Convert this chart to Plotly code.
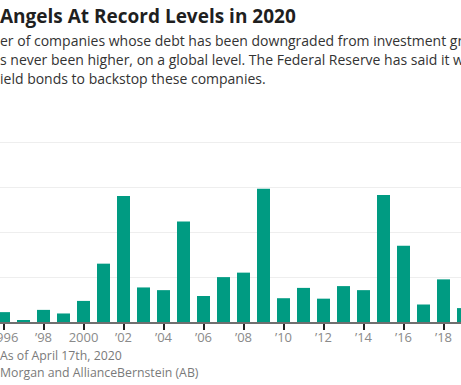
import plotly.graph_objects as go

years = list(range(1996, 2020))
values = [2.2, 0.4, 2.7, 1.9, 4.7, 13.0, 28.1, 7.7, 7.1, 22.4, 5.8, 10.0,
          11.0, 29.7, 5.3, 7.6, 5.2, 8.0, 7.1, 28.3, 17.0, 3.9, 9.5, 3.1]
tick_years = list(range(1996, 2019, 2))
tick_labels = ["1996", "’98", "2000", "’02", "’04", "’06", "’08", "’10",
               "’12", "’14", "’16", "’18"]

title_hidden = "Fallen "
title_visible = "Angels At Record Levels in 2020"
sub_lines = [
    ("The numb", "er of companies whose debt has been downgraded from investment grade to junk"),
    ("ha", "s never been higher, on a global level. The Federal Reserve has said it will buy high-"),
    ("y", "ield bonds to backstop these companies."),
]
foot_lines = [
    ("Note: ", "As of April 17th, 2020"),
    ("Source: J.P. ", "Morgan and AllianceBernstein (AB)"),
]

W, H = 461, 385
plot_top, plot_bottom = 137.5, 322.0
ph = plot_bottom - plot_top

def py(p):
    return (plot_bottom - p) / ph

fig = go.Figure(go.Bar(x=years, y=values, marker=dict(color="#009b82", line=dict(width=0)),
                       hoverinfo="x+y"))

FONT = "Open Sans"
ann = []
def split_line(hidden, visible, ypix, size, color, bold=False):
    h = f"<b>{hidden}</b>" if bold else hidden
    v = f"<b>{visible}</b>" if bold else visible
    ann.append(dict(xref="paper", yref="paper", x=0, y=py(ypix), xanchor="right", yanchor="middle",
                    text=h, showarrow=False, font=dict(family=FONT, size=size, color=color), xshift=-2))
    ann.append(dict(xref="paper", yref="paper", x=0, y=py(ypix), xanchor="left", yanchor="middle",
                    text=v, showarrow=False, font=dict(family=FONT, size=size, color=color), xshift=-2))

split_line(title_hidden, title_visible, 15, 19, "#1f1f1f", bold=True)
for (hd, vs), yp in zip(sub_lines, [40, 59, 78]):
    split_line(hd, vs, yp, 14, "#333333")
for (hd, vs), yp in zip(foot_lines, [356, 373]):
    split_line(hd, vs, yp, 12.3, "#7a7a7a")

fig.update_layout(
    width=W, height=H,
    margin=dict(l=0, r=0, t=plot_top, b=H - plot_bottom, pad=0, autoexpand=False),
    paper_bgcolor="white", plot_bgcolor="white",
    bargap=0.35,
    showlegend=False,
    annotations=ann,
    xaxis=dict(range=[1995.825, 2018.875], tickmode="array", tickvals=tick_years, ticktext=tick_labels,
               ticks="outside", ticklen=6, tickwidth=1.5, tickcolor="#222",
               showline=True, linecolor="#6f6f6f", linewidth=1.5, automargin=False,
               showgrid=False, zeroline=False, ticklabeloverflow="allow", ticklabelstandoff=-3,
               tickfont=dict(family=FONT, size=13, color="#8a8a8a")),
    yaxis=dict(range=[0, 41], dtick=10, showticklabels=False, showgrid=True, automargin=False,
               gridcolor="#eeeeee", gridwidth=1, zeroline=False, fixedrange=True),
)

fig.write_html("out.html", config={"displayModeBar": False},
               post_script="document.body.style.margin='0';document.body.style.overflow='hidden';")
